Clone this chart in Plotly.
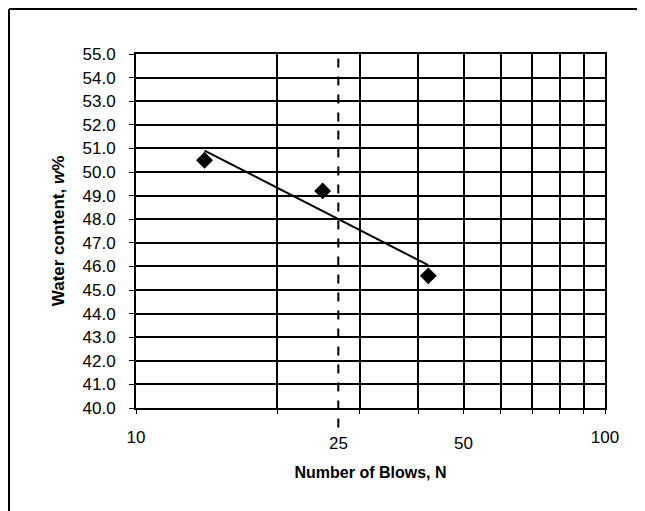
import numpy as np
import plotly.graph_objects as go

# Data
blows = [14, 25, 42]
water_content = [50.5, 49.2, 45.6]
reference_blows_line = 27          # position of the dashed "25" marker as drawn
x_grid_vals = [10, 20, 30, 40, 50, 60, 70, 80, 90, 100]
x_grid_text = ["10", "", "", "", "", "", "", "", "", "100"]
extra_x_labels = [(reference_blows_line, "25"), (50, "50")]
y_ticks = [40 + i for i in range(16)]
y_tick_text = [f"{v:.1f}" for v in y_ticks]

FONT = "Liberation Sans, Arial, sans-serif"

# Linear trendline in log(N)
coef = np.polyfit(np.log10(blows), water_content, 1)
trend_x = [min(blows), max(blows)]
trend_y = [coef[0] * np.log10(v) + coef[1] for v in trend_x]

fig = go.Figure()
fig.add_trace(go.Scatter(x=trend_x, y=trend_y, mode="lines",
                         line=dict(color="black", width=2), showlegend=False))
fig.add_trace(go.Scatter(x=blows, y=water_content, mode="markers",
                         marker=dict(symbol="diamond", size=13, color="black"),
                         showlegend=False))

# dashed vertical line at liquid limit blows
fig.add_shape(type="line", xref="x", yref="paper",
              x0=reference_blows_line, x1=reference_blows_line, y0=-0.055, y1=1,
              line=dict(color="black", width=2, dash="dash"))

for xv, txt in extra_x_labels:
    fig.add_annotation(x=np.log10(xv), xref="x", y=-0.099, yref="paper",
                       text=txt, showarrow=False, yanchor="middle",
                       font=dict(family=FONT, size=17, color="black"))

# outer frame (top and left)
fig.add_shape(type="line", xref="paper", yref="paper", x0=-0.2708, x1=1.2, y0=1.127, y1=1.127,
              line=dict(color="black", width=2))
fig.add_shape(type="line", xref="paper", yref="paper", x0=-0.2708, x1=-0.2708, y0=1.127, y1=-0.35,
              line=dict(color="black", width=2))

fig.update_xaxes(type="log", range=[1, 2], tickvals=x_grid_vals, ticktext=x_grid_text,
                 showgrid=True, gridcolor="black", gridwidth=1.5,
                 showline=True, linecolor="black", linewidth=2, mirror=True,
                 ticks="outside", ticklen=4, tickcolor="black", ticklabelstandoff=9,
                 tickfont=dict(family=FONT, size=17, color="black"),
                 title=dict(text="<b>Number of Blows, N</b>", standoff=20,
                            font=dict(family=FONT, size=16, color="black")),
                 zeroline=False, automargin=False)
fig.update_yaxes(range=[40, 55], tickvals=y_ticks, ticktext=y_tick_text,
                 showgrid=True, gridcolor="black", gridwidth=1.5,
                 showline=True, linecolor="black", linewidth=2, mirror=True,
                 ticks="outside", ticklen=5, tickcolor="black", ticklabelstandoff=10,
                 tickfont=dict(family=FONT, size=17, color="black"),
                 title=dict(text="<b>Water content, <i>w</i>%</b>", standoff=14,
                            font=dict(family=FONT, size=17, color="black")),
                 zeroline=False, automargin=False)

fig.update_layout(width=637, height=503, plot_bgcolor="white", paper_bgcolor="white",
                  margin=dict(l=128, r=40, t=46, b=103))

fig.write_html("out.html")
